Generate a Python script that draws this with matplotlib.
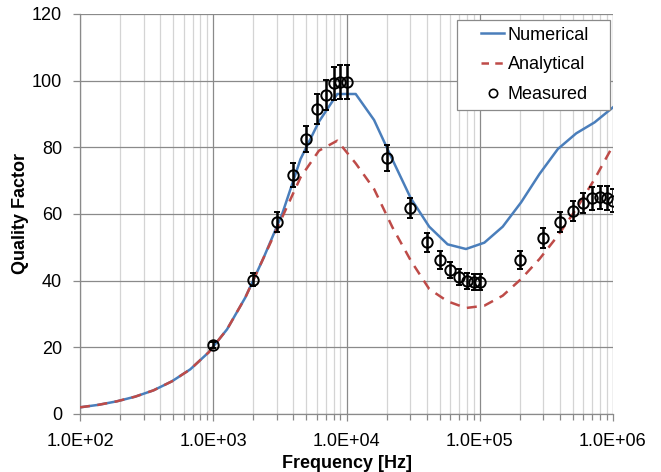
import matplotlib
matplotlib.use("Agg")
import matplotlib.pyplot as plt
from matplotlib.lines import Line2D
from matplotlib.legend_handler import HandlerLine2D
from matplotlib.ticker import LogLocator, FixedLocator, FuncFormatter, NullFormatter

plt.rcParams['font.family'] = ['Liberation Sans', 'DejaVu Sans']

# Simulation / model frequencies [Hz]
model_freq = [100, 137.4, 188.8, 259.3, 356.2, 489.4, 672.4, 923.7, 1269, 1743,
              2395, 3290, 4520, 6210, 8532, 11721, 16103, 22122, 30392, 41753,
              57362, 78805, 108264, 148735, 204336, 280722, 385662, 529832,
              727895, 1000000]
numerical = [2.0, 2.75, 3.8, 5.2, 7.1, 9.8, 13.4, 18.5, 25.4, 35.0,
             47.0, 60.0, 76.5, 87.7, 96.0, 96.0, 88.2, 76.3, 64.7, 56.2,
             50.9, 49.5, 51.4, 56.2, 63.5, 72.0, 79.5, 84.2, 87.5, 92.0]
analytical = [2.0, 2.75, 3.8, 5.2, 7.1, 9.8, 13.4, 18.5, 25.4, 35.0,
              47.0, 59.0, 71.0, 79.0, 82.0, 75.2, 67.5, 56.0, 46.0, 37.5,
              33.8, 31.8, 32.5, 35.5, 40.5, 46.5, 53.5, 61.5, 70.5, 80.5]

# Measured quality factor with uncertainty
meas_freq = [1e3, 2e3, 3e3, 4e3, 5e3, 6e3, 7e3, 8e3, 9e3, 1e4,
             2e4, 3e4, 4e4, 5e4, 6e4, 7e4, 8e4, 9e4, 1e5,
             2e5, 3e5, 4e5, 5e5, 6e5, 7e5, 8e5, 9e5, 1e6]
meas_q = [20.7, 40.3, 57.5, 71.7, 82.5, 91.4, 95.7, 99.2, 99.6, 99.6,
          76.8, 61.8, 51.5, 46.2, 43.2, 41.2, 40.0, 39.7, 39.7,
          46.2, 52.7, 57.5, 61.0, 63.3, 64.7, 65.0, 64.8, 64.0]
meas_err = [1.0, 2.0, 3.0, 3.6, 4.0, 4.5, 4.4, 5.0, 5.0, 5.0,
            4.0, 3.0, 2.8, 2.7, 2.5, 2.4, 2.4, 2.4, 2.4,
            2.6, 3.0, 3.0, 3.0, 3.0, 3.5, 3.5, 3.5, 3.5]

x_ticks = [1e2, 1e3, 1e4, 1e5, 1e6]
y_ticks = [0, 20, 40, 60, 80, 100, 120]

fig = plt.figure(figsize=(6.61, 4.72), dpi=100)
ax = fig.add_axes([80 / 661, 1 - 414 / 472, 533 / 661, 400 / 472])

blue = '#4a7ebb'
red = '#be4b48'
grid_major = '#8a8a8a'
grid_minor = '#d4d4d4'

ax.plot(model_freq, numerical, color=blue, lw=1.8, zorder=3)
ax.plot(model_freq, analytical, color=red, lw=1.8, ls=(0, (4, 3)), zorder=3)
ax.errorbar(meas_freq, meas_q, yerr=meas_err, fmt='o', ms=7.5, mfc='none',
            mec='black', mew=1.4, ecolor='black', elinewidth=1.8, capsize=2.5,
            capthick=1.5, zorder=4)

ax.set_xscale('log')
ax.set_xlim(1e2, 1e6)
ax.set_ylim(0, 120)
ax.xaxis.set_major_locator(FixedLocator(x_ticks))
ax.xaxis.set_major_formatter(FuncFormatter(lambda v, p: '{:.1E}'.format(v)))
ax.xaxis.set_minor_locator(LogLocator(base=10, subs=range(2, 10), numticks=50))
ax.xaxis.set_minor_formatter(NullFormatter())
ax.yaxis.set_major_locator(FixedLocator(y_ticks))

ax.grid(which='major', color=grid_major, lw=0.9, zorder=0)
ax.grid(which='minor', axis='x', color=grid_minor, lw=0.9, zorder=0)
ax.set_axisbelow(True)

for s in ['top', 'right']:
    ax.spines[s].set_visible(False)
for s in ['left', 'bottom']:
    ax.spines[s].set_color(grid_major)
    ax.spines[s].set_linewidth(0.9)

ax.tick_params(axis='y', which='major', length=5, width=0.9,
               color=grid_major, labelsize=13, pad=8)
ax.tick_params(axis='x', which='major', length=5, width=0.9,
               color=grid_major, labelsize=13, pad=9)
ax.tick_params(axis='x', which='minor', length=4, width=0.9, color=grid_major)

ax.set_xlabel('Frequency [Hz]', fontsize=13, fontweight='bold', labelpad=3)
ax.set_ylabel('Quality Factor', fontsize=13, fontweight='bold', labelpad=2)

# Legend entries: plain line / dashed line / open circle
handles = [
    Line2D([], [], color=blue, lw=1.8),
    Line2D([], [], color=red, lw=1.8, ls=(0, (3, 2.5))),
    Line2D([], [], ls='none', marker='o', ms=6, mfc='none', mec='black', mew=1.2),
]
labels = ['Numerical', 'Analytical', 'Measured']
pad_handler = HandlerLine2D(xpad=0.95)
x0 = (457 - 80) / 533
x1 = (610 - 80) / 533
ytop = (414 - 20) / 400
leg = ax.legend(handles, labels, loc='upper left',
                bbox_to_anchor=(x0, 0, x1 - x0, ytop), mode='expand',
                fontsize=13, frameon=True, fancybox=False,
                edgecolor=grid_major, framealpha=1, handlelength=2.25,
                handletextpad=0.2, borderpad=0.37, labelspacing=0.7,
                borderaxespad=0,
                handler_map={h: pad_handler for h in handles})
leg.get_frame().set_linewidth(0.9)

fig.savefig('out.png', dpi=100)
